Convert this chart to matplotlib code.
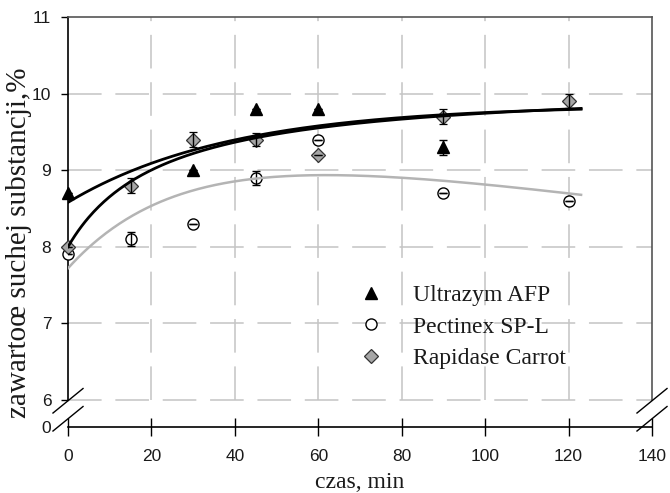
import numpy as np
import matplotlib
matplotlib.use("Agg")
from matplotlib import pyplot as plt
from matplotlib.lines import Line2D

# sampling times, min
czas = [0, 15, 30, 45, 60, 90, 120]

# dry matter content, % (Ultrazym has no visible point at 15 and 120 min)
ultrazym_x = [0, 30, 45, 60, 90]
ultrazym_y = [8.7, 9.0, 9.8, 9.8, 9.3]
ultrazym_err = [0, 0, 0, 0, 0.1]

pectinex_y = [7.9, 8.1, 8.3, 8.9, 9.4, 8.7, 8.6]
pectinex_err = [0, 0.09, 0, 0.09, 0, 0, 0]

rapidase_y = [8.0, 8.8, 9.4, 9.4, 9.2, 9.7, 9.9]
rapidase_err = [0, 0.1, 0.1, 0.09, 0, 0.1, 0.09]

labels = ["Ultrazym AFP", "Pectinex SP-L", "Rapidase Carrot"]

# fitted trend parameters
ultrazym_fit = (9.85, 1.27, 0.0257)           # y = a - b*exp(-k t)
rapidase_fit = (8.0, 2.14, 22.7)              # y = y0 + V t / (K + t)
pectinex_fit = (9.56, 1.84, 0.0366, 0.007)    # y = a - b*exp(-k t) - m t
fit_end = 123

yticks = [6, 7, 8, 9, 10, 11]
xticks = [0, 20, 40, 60, 80, 100, 120, 140]

# the axis is broken between 0 and 6
y_zero = 6 - 27 / 76.6

serif = "Liberation Serif"
sans = "Liberation Sans"
txt = "#1a1a1a"

fig = plt.figure(figsize=(6.7, 4.93), dpi=100)
ax = fig.add_axes([68 / 670, 1 - 427 / 493, (652 - 68) / 670, (427 - 17) / 493])
ax.set_xlim(0, 140)
ax.set_ylim(y_zero, 11)

# dashed grid only inside the 6-11 band
grid_kw = dict(color="#c4c4c4", lw=1.1, linestyles=[(0, (22, 9))], zorder=0)
ax.hlines(yticks[:-1], 0, 140, **grid_kw)
ax.vlines(xticks[1:-1], 6, 11, **grid_kw)

# marker styles
tri = dict(marker="^", ms=8, color="black", mec="black", linestyle="none")
circ = dict(marker="o", ms=8, mfc="white", mec="black", mew=1, linestyle="none")
diam = dict(marker="D", ms=7, mfc="#a6a6a6", mec="#333333", mew=0.9, linestyle="none")
err_kw = dict(ecolor="black", elinewidth=1, capsize=3, capthick=1, zorder=3)

for xs, ys, es, st in [(ultrazym_x, ultrazym_y, ultrazym_err, tri),
                       (czas, pectinex_y, pectinex_err, circ),
                       (czas, rapidase_y, rapidase_err, diam)]:
    cont = ax.errorbar(xs, ys, yerr=es, **st, **err_kw)
    data_line, caps, bars = cont.lines
    data_line.set_clip_on(False)
    # whiskers sit on top of the symbols
    for c in caps:
        c.set_zorder(3.5)
    for bl in bars:
        bl.set_zorder(3.5)

# trend curves
t = np.linspace(0, fit_end, 300)
a, b, k = ultrazym_fit
ax.plot(t, a - b * np.exp(-k * t), color="black", lw=2, zorder=4)
y0, V, K = rapidase_fit
ax.plot(t, y0 + V * t / (K + t), color="black", lw=2, zorder=4)
a, b, k, m = pectinex_fit
ax.plot(t, a - b * np.exp(-k * t) - m * t, color="#b4b4b4", lw=1.8, zorder=4)

# frame
ax.spines["left"].set_bounds(6, 11)
ax.spines["right"].set_bounds(6, 11)
ax.spines["left"].set_color("black")
ax.spines["bottom"].set_color("black")
ax.spines["right"].set_color("#555555")
ax.spines["top"].set_color("#555555")
for s in ax.spines.values():
    s.set_linewidth(1.2)

# axis break marks
for xb in (0, 140):
    for yb in (5.99, 5.755):
        ax.plot([xb - 3.6, xb + 3.6], [yb - 0.16, yb + 0.16], color="black", lw=1,
                clip_on=False, zorder=5)

ax.set_xticks(xticks)
ax.set_xticklabels([str(v) for v in xticks], fontfamily=sans, fontsize=12.5, color=txt)
ax.set_yticks([y_zero] + yticks)
ax.set_yticklabels(["0"] + [str(v) for v in yticks], fontfamily=sans, fontsize=12.5, color=txt)
ax.tick_params(axis="x", direction="inout", length=13, width=1, pad=9)
ax.tick_params(axis="y", direction="out", length=5, width=1, pad=7)
ax.yaxis.get_major_ticks()[0].tick1line.set_visible(False)

handles = [Line2D([], [], **tri), Line2D([], [], **circ), Line2D([], [], **diam)]
leg = ax.legend(handles, labels, loc="upper left", bbox_to_anchor=(0.482, 0.37),
                frameon=False, prop={"family": serif, "size": 17}, handlelength=1.0,
                handletextpad=1.3, labelspacing=0.42, borderaxespad=0)
for tx in leg.get_texts():
    tx.set_color(txt)

fig.text(360 / 670, 1 - 482 / 493, "czas, min", ha="center", va="center",
         fontfamily=serif, fontsize=17, color=txt)
fig.text(19 / 670, 1 - 243 / 493, "zawartoœ suchej substancji,%", ha="center",
         va="center", rotation=90, fontfamily=serif, fontsize=21, color=txt)

fig.savefig("out.png", dpi=100)
